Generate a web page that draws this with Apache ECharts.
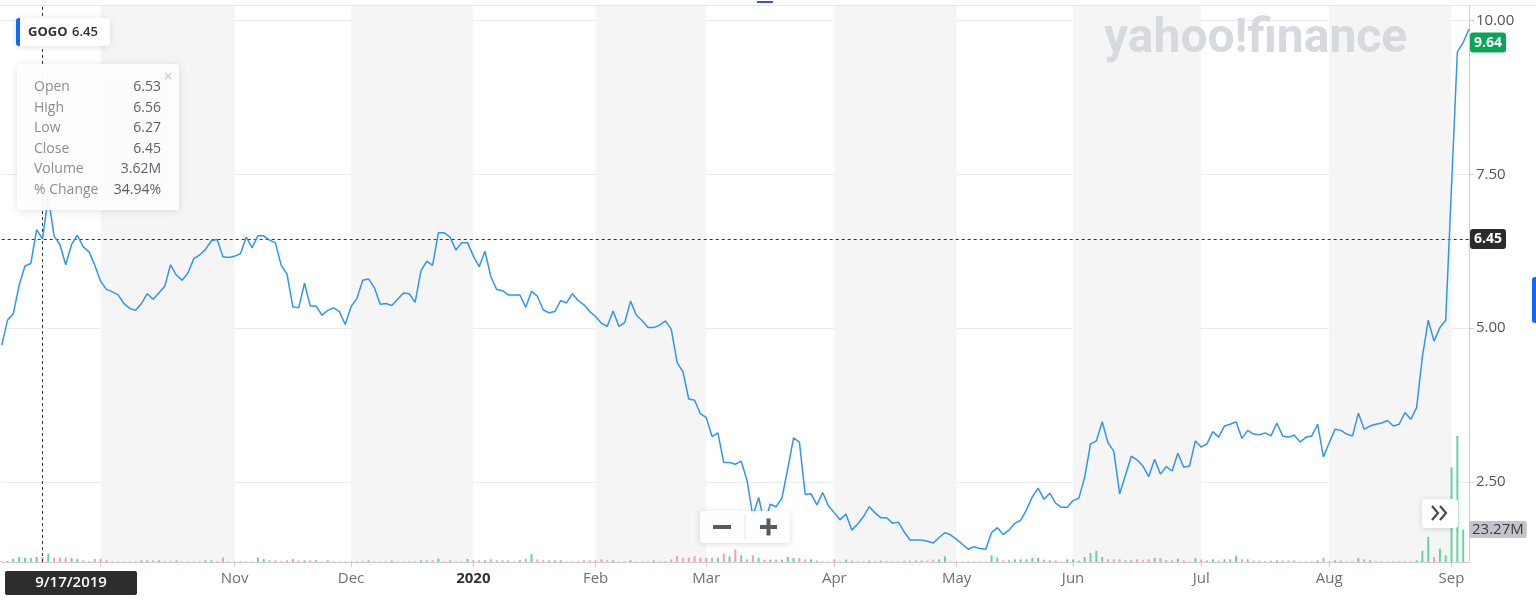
<!DOCTYPE html>
<html><head><meta charset="utf-8">
<script src="https://cdn.jsdelivr.net/npm/echarts@6/dist/echarts.min.js"></script>
<style>html,body{margin:0;padding:0;background:#fff}#c{width:1536px;height:608px}</style>
</head><body><div id="c"></div>
<script>
// ---------- data ----------
const ticker = 'GOGO';
const firstDay = '2019-09-06';
const lastDay = '2020-09-04';
const marketHolidays = ['2019-11-28','2019-12-25','2020-01-01','2020-01-20','2020-02-17','2020-04-10','2020-05-25','2020-07-03'];
const monthNames = ['Jan','Feb','Mar','Apr','May','Jun','Jul','Aug','Sep','Oct','Nov','Dec'];
const priceTicks = [2.5, 5, 7.5, 10];

const closePrices = [
 4.72,5.13,5.24,5.70,6.01,6.05,6.60,6.45,7.13,6.50,6.36,6.03,6.36,6.51,6.32,6.24,6.02,
 5.76,5.63,5.59,5.54,5.40,5.32,5.29,5.40,5.56,5.47,5.57,5.68,6.03,5.86,5.78,5.90,6.13,6.19,6.28,6.42,6.44,6.16,6.15,
 6.17,6.21,6.48,6.31,6.50,6.50,6.43,6.39,6.02,5.88,5.35,5.33,5.73,5.36,5.36,5.21,5.29,5.33,5.27,5.06,
 5.35,5.48,5.78,5.80,5.66,5.39,5.40,5.37,5.47,5.57,5.56,5.42,5.93,6.09,6.02,6.55,6.55,6.48,6.27,6.39,6.39,
 6.17,6.00,6.25,5.84,5.63,5.61,5.54,5.54,5.54,5.34,5.60,5.52,5.30,5.25,5.27,5.45,5.41,5.56,5.45,5.38,5.27,
 5.19,5.08,5.03,5.28,5.03,5.09,5.44,5.21,5.12,5.01,5.01,5.05,5.12,4.98,4.44,4.29,3.85,3.83,3.61,
 3.55,3.24,3.30,2.82,2.82,2.79,2.84,2.53,1.95,2.25,1.83,2.14,2.10,2.24,2.72,3.22,3.15,2.30,2.31,2.13,2.33,2.11,
 2.00,1.89,1.98,1.72,1.82,1.94,2.10,2.00,1.92,1.92,1.83,1.85,1.69,1.56,1.56,1.56,1.54,1.51,1.60,1.68,1.64,
 1.57,1.49,1.41,1.45,1.42,1.41,1.68,1.76,1.65,1.72,1.83,1.88,2.05,2.26,2.40,2.22,2.32,2.16,2.09,2.09,
 2.20,2.24,2.58,3.12,3.17,3.48,3.14,3.00,2.31,2.61,2.92,2.86,2.76,2.59,2.87,2.63,2.75,2.68,2.97,2.74,2.76,3.17,
 3.07,3.12,3.32,3.23,3.41,3.44,3.48,3.21,3.34,3.28,3.27,3.30,3.25,3.46,3.25,3.23,3.26,3.15,3.23,3.25,3.44,2.91,
 3.14,3.36,3.34,3.28,3.25,3.62,3.36,3.41,3.44,3.46,3.50,3.41,3.44,3.63,3.52,3.71,4.54,5.13,4.79,5.01,5.13,
 7.31,9.49,9.64,9.86
];

const volumesM = [
 0.5,0.7,2.4,3.6,2.9,2.9,3.6,3.62,6.1,3.2,3.2,3.2,2.9,2.2,1.2,0.5,2.2,
 2.2,1.2,0.4,0.4,0.4,0.4,0.4,1.2,1.2,1.2,1.2,0.4,0.4,1.2,0.4,0.4,0.4,0.4,1.2,1.2,0.4,3.2,0.4,
 0.4,0.4,0.4,0.4,3.2,2.2,1.2,1.2,0.4,1.2,2.2,1.2,1.2,1.2,1.2,0.4,1.2,0.4,0.4,0.4,
 0.4,0.4,0.4,1.2,0.4,0.4,0.4,1.2,0.4,0.4,0.4,0.4,1.2,1.2,1.2,2.4,0.4,1.2,0.4,0.4,2.2,
 1.2,1.2,1.2,1.9,1.2,1.2,1.2,0.4,1.2,2.4,5.6,1.9,1.2,1.2,1.2,1.2,0.4,0.4,0.4,1.2,1.2,
 1.2,1.9,1.2,1.2,0.4,0.4,1.2,0.4,0.4,0.4,1.2,0.4,0.4,1.9,4.4,3.1,3.1,4.1,3.1,
 3.1,3.1,3.1,6.0,4.1,9.0,4.8,1.9,4.8,2.9,1.7,1.7,1.7,1.7,3.6,2.9,2.9,1.9,1.9,1.0,0.4,0.4,
 1.9,0.4,1.7,1.0,0.4,0.4,1.0,0.4,1.0,0.4,0.4,0.4,1.0,1.0,1.0,1.0,1.0,1.7,1.9,4.1,0.4,
 0.4,0.4,0.4,0.4,0.4,0.4,4.8,3.1,1.2,1.2,1.9,1.9,1.9,2.9,2.9,1.7,1.2,1.2,0.4,1.9,
 1.9,1.0,3.6,6.5,8.0,3.6,1.9,1.9,1.9,1.2,1.2,1.9,1.2,1.9,2.9,2.9,1.2,1.2,2.4,1.2,0.4,2.9,
 1.7,1.0,1.9,1.0,1.9,1.9,4.4,1.9,1.9,1.0,1.0,0.4,1.0,1.2,1.0,1.0,1.0,0.4,0.4,0.4,1.2,3.1,
 0.4,1.2,1.0,0.4,0.4,2.9,1.9,1.2,0.4,0.4,0.4,0.4,0.4,0.4,0.4,1.2,8.0,18.0,3.6,9.6,4.8,
 68,90.5,23.27,0
];

const crosshairDate = '2019-09-17';
const crosshairDateLabel = '9/17/2019';
const crosshairClose = 6.45;
const lastPrice = 9.64;
const lastVolumeM = 23.27;
const tooltipLabels = ['Open','High','Low','Close','Volume','% Change'];
const tooltipValues = ['6.53','6.56','6.27','6.45','3.62M','34.94%'];

// ---------- trading-day categories ----------
function tradingDays() {
  const out = [];
  let t = Date.parse(firstDay + 'T00:00:00Z');
  const end = Date.parse(lastDay + 'T00:00:00Z');
  while (t <= end) {
    const d = new Date(t);
    const wd = d.getUTCDay();
    const s = d.toISOString().slice(0, 10);
    if (wd !== 0 && wd !== 6 && marketHolidays.indexOf(s) < 0) out.push(s);
    t += 86400000;
  }
  return out;
}
const dates = tradingDays();
const isMonthStart = dates.map((d, i) => i > 0 && d.slice(0, 7) !== dates[i - 1].slice(0, 7));

const volumeData = volumesM.map((v, i) => ({
  value: v,
  itemStyle: { color: (i === 0 || closePrices[i] >= closePrices[i - 1]) ? '#66d3a0' : '#f4a0a0' }
}));

const FONT = '"Open Sans", "Noto Sans", sans-serif';

// ---------- decorations ----------
const graphics = [];
graphics.push({ type: 'line', shape: { x1: 0, y1: 5.5, x2: 1536, y2: 5.5 }, style: { stroke: '#e6e7eb', lineWidth: 1 }, z: 1, silent: true });
graphics.push({ type: 'rect', shape: { x: 757, y: 1, width: 16, height: 2 }, style: { fill: '#3f51d6' }, z: 10 });
graphics.push({ type: 'text', x: 1104, y: 40, style: { text: 'yahoo!finance', font: 'bold 48px Roboto, sans-serif', fill: '#d6d9de', textVerticalAlign: 'middle' }, z: 3, silent: true });
// legend chip
graphics.push({ type: 'rect', shape: { x: 16, y: 18, width: 94, height: 28, r: 3 }, style: { fill: '#fff', shadowBlur: 6, shadowColor: 'rgba(0,0,0,0.12)', shadowOffsetY: 1 }, z: 20 });
graphics.push({ type: 'rect', shape: { x: 16, y: 18, width: 4, height: 28, r: [3, 0, 0, 3] }, style: { fill: '#0f69ff' }, z: 21 });
graphics.push({ type: 'text', x: 28, y: 32, style: { text: ticker, font: 'bold 13px ' + FONT, fill: '#333', textVerticalAlign: 'middle' }, z: 21 });
graphics.push({ type: 'text', x: 72, y: 32, style: { text: crosshairClose.toFixed(2), font: '600 13px ' + FONT, fill: '#333', textVerticalAlign: 'middle' }, z: 21 });
// tooltip box
graphics.push({ type: 'rect', shape: { x: 17, y: 64, width: 162, height: 146, r: 3 }, style: { fill: 'rgba(255,255,255,0.93)', shadowBlur: 8, shadowColor: 'rgba(0,0,0,0.13)', shadowOffsetY: 1 }, z: 20 });
graphics.push({ type: 'text', x: 168, y: 77, style: { text: '×', font: '16px ' + FONT, fill: '#c8c8c8', textAlign: 'center', textVerticalAlign: 'middle' }, z: 21 });
tooltipLabels.forEach((lab, i) => {
  const y = 87 + i * 20.6;
  graphics.push({ type: 'text', x: 34, y: y, style: { text: lab, font: '14px ' + FONT, fill: '#8a8d91', textVerticalAlign: 'middle' }, z: 21 });
  graphics.push({ type: 'text', x: 161, y: y, style: { text: tooltipValues[i], font: '14px ' + FONT, fill: '#5b6168', textAlign: 'right', textVerticalAlign: 'middle' }, z: 21 });
});
// date label at bottom
graphics.push({ type: 'rect', shape: { x: 5, y: 571, width: 132, height: 24, r: 2 }, style: { fill: '#2d2d2d' }, z: 20 });
graphics.push({ type: 'text', x: 71, y: 583, style: { text: crosshairDateLabel, font: '600 15px ' + FONT, fill: '#fff', textAlign: 'center', textVerticalAlign: 'middle' }, z: 21 });
// zoom buttons
graphics.push({ type: 'rect', shape: { x: 700, y: 511, width: 90, height: 32, r: 3 }, style: { fill: 'rgba(255,255,255,0.95)', shadowBlur: 6, shadowColor: 'rgba(0,0,0,0.15)', shadowOffsetY: 1 }, z: 20 });
graphics.push({ type: 'line', shape: { x1: 745, y1: 515, x2: 745, y2: 539 }, style: { stroke: '#e3e3e3', lineWidth: 1 }, z: 21 });
graphics.push({ type: 'rect', shape: { x: 713, y: 525, width: 18, height: 4 }, style: { fill: '#5a5a5a' }, z: 21 });
graphics.push({ type: 'rect', shape: { x: 760, y: 525, width: 17, height: 4 }, style: { fill: '#5a5a5a' }, z: 21 });
graphics.push({ type: 'rect', shape: { x: 766.5, y: 518.5, width: 4, height: 17 }, style: { fill: '#5a5a5a' }, z: 21 });
// >> button
graphics.push({ type: 'rect', shape: { x: 1422, y: 499, width: 36, height: 29, r: 3 }, style: { fill: '#fff', shadowBlur: 6, shadowColor: 'rgba(0,0,0,0.15)', shadowOffsetY: 1 }, z: 20 });
graphics.push({ type: 'polyline', shape: { points: [[1432, 506], [1438, 513], [1432, 520]] }, style: { stroke: '#4a4a4a', lineWidth: 2.2, fill: null }, z: 21 });
graphics.push({ type: 'polyline', shape: { points: [[1440, 506], [1446, 513], [1440, 520]] }, style: { stroke: '#4a4a4a', lineWidth: 2.2, fill: null }, z: 21 });
// right-edge handle
graphics.push({ type: 'rect', shape: { x: 1532, y: 277, width: 6, height: 46, r: 3 }, style: { fill: '#0f69ff' }, z: 20 });

const chart = echarts.init(document.getElementById('c'));
chart.setOption({
  animation: false,
  textStyle: { fontFamily: FONT },
  grid: [
    { left: 1.7, right: 67, top: 5, height: 631, containLabel: false, outerBoundsMode: 'none' },
    { left: 1.7, right: 67, top: 5, bottom: 46, containLabel: false, outerBoundsMode: 'none' }
  ],
  xAxis: [
    { type: 'category', gridIndex: 0, data: dates, boundaryGap: false, show: false },
    {
      type: 'category', gridIndex: 1, data: dates, boundaryGap: false,
      axisLine: { lineStyle: { color: '#cfcfcf' } },
      axisTick: { length: 5, lineStyle: { color: '#cfcfcf' }, interval: (i) => isMonthStart[i] },
      axisLabel: {
        interval: (i) => isMonthStart[i] && dates[i].slice(0, 7) !== '2019-10',
        color: '#6f6f6f', fontSize: 15, margin: 9,
        formatter: (v) => {
          const m = +v.slice(5, 7);
          return m === 1 ? '{y|' + v.slice(0, 4) + '}' : monthNames[m - 1];
        },
        rich: { y: { fontWeight: 'bold', color: '#333', fontSize: 15 } }
      },
      splitLine: { show: false },
      splitArea: { show: true, interval: (i) => isMonthStart[i], areaStyle: { color: ['#f5f5f5', 'rgba(255,255,255,0)'] } }
    }
  ],
  yAxis: [
    {
      type: 'value', gridIndex: 0, position: 'right', min: 0, max: 10.25, interval: 2.5,
      axisLine: { show: false },
      axisTick: { show: true, length: 5, lineStyle: { color: '#cfcfcf' } },
      axisLabel: {
        color: '#555', fontSize: 15, margin: 7,
        formatter: (v) => priceTicks.indexOf(v) >= 0 ? v.toFixed(2) : ''
      },
      splitLine: { lineStyle: { color: '#ebebeb' } }
    },
    {
      type: 'value', gridIndex: 1, position: 'right', min: 0, max: 400,
      axisLine: { show: true, lineStyle: { color: '#cfcfcf' } },
      axisTick: { show: false }, axisLabel: { show: false }, splitLine: { show: false }
    }
  ],
  series: [
    {
      type: 'bar', xAxisIndex: 1, yAxisIndex: 1, data: volumeData, barWidth: 2, silent: true,
      markLine: {
        silent: true, symbol: ['none', 'none'], animation: false,
        data: [
          { xAxis: crosshairDate, lineStyle: { color: '#333', type: [3, 3], width: 1 }, label: { show: false } },
          { yAxis: lastVolumeM, lineStyle: { color: 'rgba(0,0,0,0)', width: 0 },
            label: { show: true, position: 'end', distance: 0, formatter: lastVolumeM.toFixed(2) + 'M',
                     backgroundColor: '#c3c4cc', color: '#3b3b3b', fontSize: 15, padding: [1, 3], borderRadius: 2 } }
        ]
      }
    },
    {
      type: 'line', xAxisIndex: 0, yAxisIndex: 0, data: closePrices, showSymbol: false, symbol: 'none',
      lineStyle: { color: '#2f96f0', width: 1.5 }, silent: true, z: 5,
      markLine: {
        silent: true, symbol: ['none', 'none'], animation: false,
        data: [
          { yAxis: crosshairClose, lineStyle: { color: '#333', type: [3, 3], width: 1 },
            label: { show: true, position: 'end', distance: 1, formatter: crosshairClose.toFixed(2),
                     backgroundColor: '#2b2b2b', color: '#fff', fontSize: 14, fontWeight: 'bold', padding: [3, 4], borderRadius: 3 } },
          { yAxis: lastPrice, lineStyle: { color: 'rgba(0,0,0,0)', width: 0 },
            label: { show: true, position: 'end', distance: 1, formatter: lastPrice.toFixed(2),
                     backgroundColor: '#0ba55a', color: '#fff', fontSize: 14, fontWeight: 'bold', padding: [3, 4], borderRadius: 3 } }
        ]
      }
    }
  ],
  graphic: graphics
});
</script>
</body></html>
